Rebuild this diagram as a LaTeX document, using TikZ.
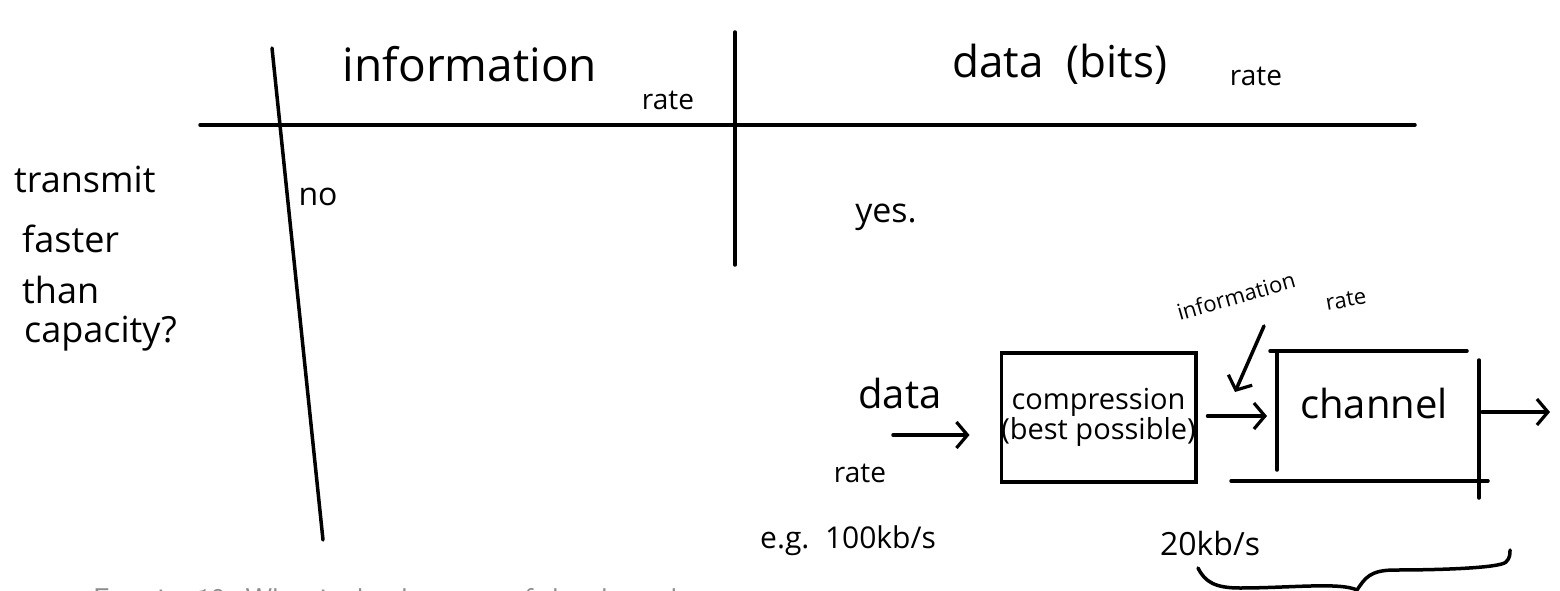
\documentclass[tikz,border=0pt]{standalone}
\usepackage{fontspec}
\setmainfont{Open Sans}
\usetikzlibrary{arrows.meta}
\begin{document}
\begin{tikzpicture}[x=1pt,y=-1pt,
  pen/.style={line width=3.5pt, line cap=round},
  barb/.style={-{Straight Barb[length=11pt,width=26pt,line width=3.2pt]}},
  hw/.style={inner sep=0pt, font=\fontsize{#1}{#1}\selectfont},
  boxnode/.style={draw, line width=3.5pt, minimum width=193pt, minimum height=129pt, inner sep=0pt, align=center}]
\useasboundingbox (0,0) rectangle (1560,591);

% table
\coordinate (hl) at (200,125);
\coordinate (hr) at (1415,125);
\coordinate (st) at (272,48);
\coordinate (sb) at (323,540);
\coordinate (vt) at (735,32);
\coordinate (vb) at (735,265);
\draw[pen] (hl) -- (hr);
\draw[pen] (st) -- (sb);
\draw[pen] (vt) -- (vb);

\node[hw=46, anchor=base] (info) at (470,82) {information};
\node[hw=28, anchor=base] (infrate) at (668,110) {rate};
\node[hw=44, anchor=base] (data) at (1060,78) {data\ \ (bits)};
\node[hw=28, anchor=base] (datarate) at (1256,86) {rate};

\node[hw=36, anchor=base west] (l1) at (14,192) {transmit};
\node[hw=36, anchor=base west] (l2) at (22,252) {faster};
\node[hw=36, anchor=base west] (l3) at (22,303) {than};
\node[hw=36, anchor=base west] (l4) at (24,342) {capacity?};

\node[hw=32, anchor=base] (no) at (318,205) {no};
\node[hw=34, anchor=base] (yes) at (886,222) {yes.};

% bottom diagram
\node[boxnode] (comp) at (1098.5,417.5) {\fontsize{29}{36}\selectfont compression\\\fontsize{29}{36}\selectfont (best possible)};

\coordinate (ctl) at (1270,351);
\coordinate (ctr) at (1467,351);
\coordinate (clt) at (1277,353);
\coordinate (clb) at (1277,470);
\coordinate (cbl) at (1231,481);
\coordinate (cbr) at (1488,481);
\coordinate (crt) at (1479,360);
\coordinate (crb) at (1479,498);
\draw[pen] (ctl) -- (ctr);
\draw[pen] (clt) -- (clb);
\draw[pen] (cbl) -- (cbr);
\draw[pen] (crt) -- (crb);
\node[hw=40, anchor=base] (chan) at (1374,418) {channel};

\node[hw=40, anchor=base] (dlab) at (900,408) {data};
\node[hw=28, anchor=base] (rlab) at (860,482) {rate};
\coordinate (din) at (893,435);
\draw[pen, barb] (din) -- ([xshift=-30pt]comp.west |- din);

\coordinate (cin) at (1267,416);
\draw[pen, barb] ([xshift=10pt]comp.east |- cin) -- (cin);

\coordinate (cout1) at (1482,412);
\coordinate (cout2) at (1550,412);
\draw[pen, barb] (cout1) -- (cout2);

\node[hw=22, anchor=center, rotate=16] (ir1) at (1236,296) {information};
\node[hw=22, anchor=center, rotate=10] (ir2) at (1346,300) {rate};
\coordinate (iat) at (1264,326);
\coordinate (iah) at (1235,392);
\draw[pen, barb] (iat) -- (iah);

\node[hw=30, anchor=base west] (eg) at (760,548) {e.g.\ \ 100kb/s};
\node[hw=32, anchor=base] (k20) at (1210,555) {20kb/s};

\coordinate (bl) at (1198,568);
\coordinate (bm) at (1357,590);
\coordinate (br) at (1510,550);
\draw[pen] (bl) .. controls (1205,582) and (1215,588) .. (1240,588)
  .. controls (1290,588) and (1340,582) .. (bm)
  .. controls (1365,578) and (1370,570) .. (1395,570)
  .. controls (1440,570) and (1500,568) .. (1506,562)
  .. controls (1510,558) and (1510,554) .. (br);

\node[inner sep=0pt, anchor=north west, text=black!45, font=\sffamily\fontsize{30}{30}\selectfont] (ex) at (93,588) {Exercise 13. What is the data rate of the channel};
\end{tikzpicture}
\end{document}
